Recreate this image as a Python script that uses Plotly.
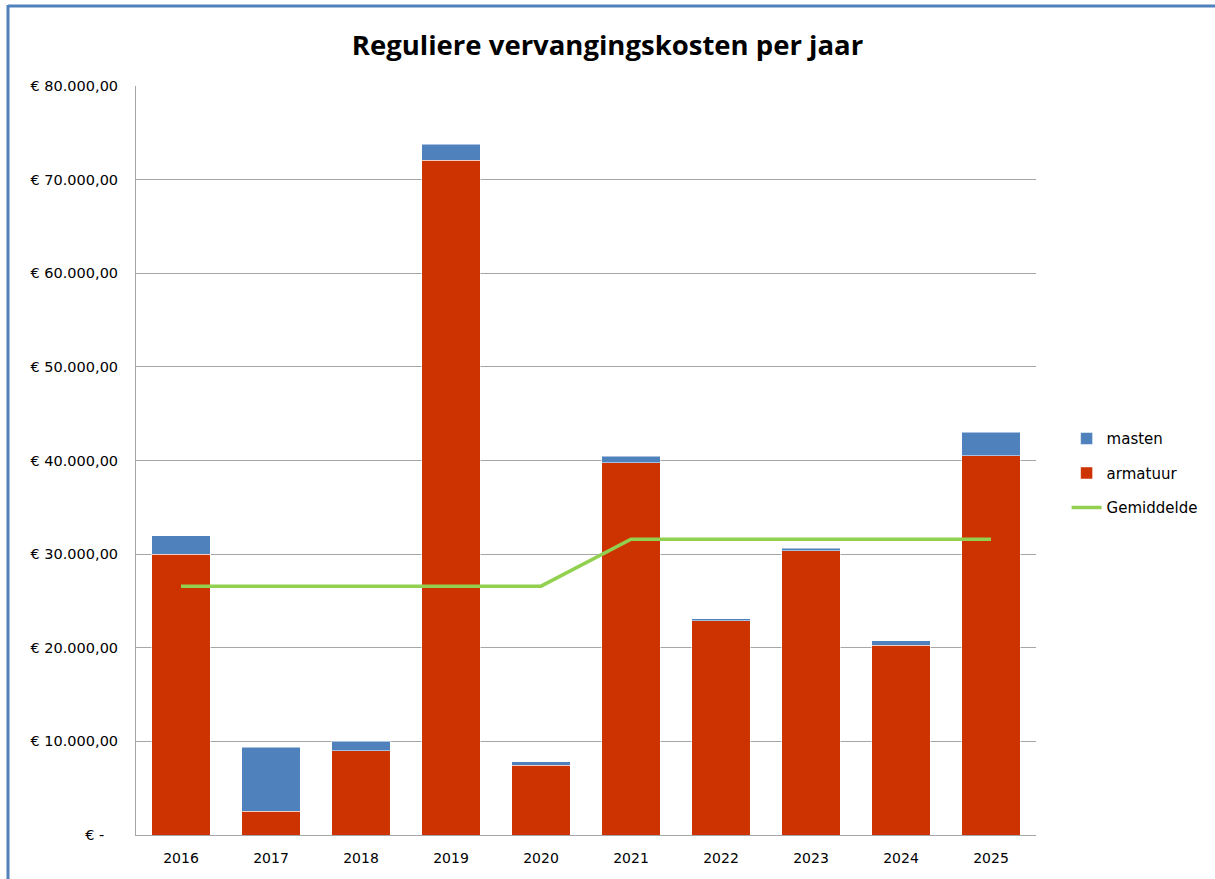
import plotly.graph_objects as go

years = ["2016", "2017", "2018", "2019", "2020", "2021", "2022", "2023", "2024", "2025"]
armatuur = [30000, 2560, 9000, 72070, 7430, 39750, 22860, 30360, 20260, 40530]
masten = [1940, 6790, 1000, 1710, 390, 720, 260, 250, 500, 2500]
gemiddelde = [26580, 26580, 26580, 26580, 26580, 31600, 31600, 31600, 31600, 31600]
y_ticks = [0, 10000, 20000, 30000, 40000, 50000, 60000, 70000, 80000]
y_ticktext = ["€ -\u00a0\u00a0\u00a0", "€ 10.000,00", "€ 20.000,00", "€ 30.000,00", "€ 40.000,00",
              "€ 50.000,00", "€ 60.000,00", "€ 70.000,00", "€ 80.000,00"]

W, H = 1215, 879
L, R, T, B = 136, 1036, 86, 835

TICK_FONT = "DejaVu Sans"
TITLE_FONT = "Open Sans"

fig = go.Figure()
fig.add_trace(go.Bar(x=years, y=armatuur, name="armatuur", marker_color="#CC3300",
                     marker_line=dict(color="rgba(255,255,255,0.5)", width=1),
                     legendgroup="a", legendrank=2))
fig.add_trace(go.Bar(x=years, y=masten, name="masten", marker_color="#4F81BD",
                     marker_line=dict(color="rgba(255,255,255,0.5)", width=1),
                     legendgroup="m", legendrank=1))
fig.add_trace(go.Scatter(x=years, y=gemiddelde, name="Gemiddelde", mode="lines",
                         line=dict(color="#92D050", width=3.5),
                         legendgroup="g", legendrank=3))

def px_x(p):
    return (p - L) / (R - L)

def px_y(p):
    return (B - p) / (B - T)

shapes = [
    dict(type="line", xref="paper", yref="paper", x0=px_x(8), x1=px_x(W + 5), y0=px_y(6), y1=px_y(6),
         line=dict(color="#4F81BD", width=3)),
    dict(type="line", xref="paper", yref="paper", x0=px_x(8), x1=px_x(8), y0=px_y(5), y1=px_y(H + 5),
         line=dict(color="#4F81BD", width=3)),
]

fig.update_layout(
    width=W, height=H,
    margin=dict(l=L, r=W - R, t=T, b=H - B),
    paper_bgcolor="white", plot_bgcolor="white",
    barmode="stack", bargap=0.35,
    font=dict(family=TICK_FONT, size=14, color="#000000"),
    title=dict(text="<b>Reguliere vervangingskosten per jaar</b>", x=0.5, xanchor="center",
               y=1 - 45 / H, yanchor="middle", font=dict(family=TITLE_FONT, size=27.5, color="#000000")),
    xaxis=dict(type="category", showgrid=False, showline=True, linecolor="#A6A6A6", linewidth=1,
               ticks="", tickfont=dict(size=14, family=TICK_FONT), ticklabelstandoff=10),
    yaxis=dict(range=[0, 80000], tickvals=y_ticks, ticktext=y_ticktext, showgrid=True,
               gridcolor="#A6A6A6", gridwidth=1, showline=True, linecolor="#A6A6A6", linewidth=1,
               ticks="", tickfont=dict(size=14.5, family=TICK_FONT), ticklabelstandoff=14, zeroline=False),
    legend=dict(x=1.034, xanchor="left", y=0.483, yanchor="middle", traceorder="grouped",
                tracegroupgap=12, font=dict(size=15, family=TICK_FONT), bgcolor="rgba(0,0,0,0)"),
    shapes=shapes,
    showlegend=True,
)

fig.write_html("out.html", config={"displayModeBar": False},
               post_script="document.body.style.margin='0';")
